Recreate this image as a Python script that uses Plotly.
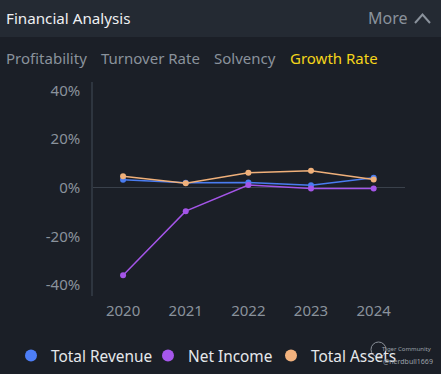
import plotly.graph_objects as go

years = [2020, 2021, 2022, 2023, 2024]
total_revenue = [3.3, 2.1, 2.2, 1.0, 4.1]
net_income = [-36.0, -9.6, 1.1, -0.3, -0.3]
total_assets = [4.7, 1.9, 6.2, 7.0, 3.4]
series_names = ["Total Revenue", "Net Income", "Total Assets"]
series_colors = ["#4a7cf0", "#a455e8", "#f0b07a"]
y_ticks = [-40, -20, 0, 20, 40]
y_tick_labels = ["-40%", "-20%", "0%", "20%", "40%"]
tabs = ["Profitability", "Turnover Rate", "Solvency", "Growth Rate"]

FONT = "Noto Sans"
BG = "#1b1f27"
HEADER = "#242a33"
GRAY = "#8a929c"

H = 374 - 82 - 78
W = 441 - 93 - 36
def px(x):
    return (x - 93) / W
def py(y):
    return (374 - 78 - y) / H

fig = go.Figure()
for name, vals, col in zip(series_names, [total_revenue, net_income, total_assets], series_colors):
    fig.add_trace(go.Scatter(
        x=years, y=vals, mode="lines+markers", name=name,
        line=dict(color=col, width=1.5), marker=dict(color=col, size=6),
        showlegend=False, hoverinfo="skip"))

legend_ids = ["legend", "legend2", "legend3"]
legend_x = [11, 148, 271]
legend_colors = ["#4d7ef7", "#a657ec", "#f2b27e"]
for name, col, lid in zip(series_names, legend_colors, legend_ids):
    fig.add_trace(go.Scatter(
        x=[None], y=[None], mode="markers", name=name, legend=lid,
        marker=dict(color=col, size=12, symbol="circle"), showlegend=True))

leg_common = dict(orientation="h", yanchor="middle", y=1 - 356 / 374, xanchor="left",
                  xref="container", yref="container",
                  font=dict(size=15.4, color="#e6e8eb", family=FONT),
                  itemwidth=30, bgcolor="rgba(0,0,0,0)")
fig.update_layout(
    width=441, height=374,
    paper_bgcolor=BG, plot_bgcolor=BG,
    margin=dict(l=93, r=36, t=82, b=78, autoexpand=False),
    font=dict(family=FONT, color=GRAY, size=15),
    xaxis=dict(range=[2019.52, 2024.5], tickvals=years, ticktext=[str(y) for y in years],
               showgrid=False, zeroline=False, showline=False, ticks="",
               ticklabelstandoff=4,
               tickfont=dict(size=15, color=GRAY), fixedrange=True),
    yaxis=dict(range=[-44.5, 43.5], tickvals=y_ticks, ticktext=y_tick_labels,
               showgrid=False, zeroline=True, zerolinecolor="#3a414b", zerolinewidth=1,
               showline=True, linecolor="#2e353f", linewidth=1.5, ticks="",
               ticklabelstandoff=8,
               tickfont=dict(size=15, color=GRAY), fixedrange=True),
    legend=dict(x=legend_x[0] / 441, **leg_common),
    legend2=dict(x=legend_x[1] / 441, **leg_common),
    legend3=dict(x=legend_x[2] / 441, **leg_common),
    showlegend=True,
)

fig.add_shape(type="rect", xref="paper", yref="paper", x0=px(0), x1=px(441), y0=py(0), y1=py(37),
              fillcolor=HEADER, line=dict(width=0), layer="below")
fig.add_shape(type="path", xref="paper", yref="paper",
              path=f"M {px(415)} {py(23)} L {px(422.5)} {py(14.5)} L {px(430)} {py(23)}",
              line=dict(color=GRAY, width=2))

fig.add_annotation(text="Financial Analysis", x=px(4), y=py(18), xref="paper", yref="paper",
                   xanchor="left", yanchor="middle", showarrow=False,
                   font=dict(size=15.2, color="#eef0f2", family=FONT))
fig.add_annotation(text="More", x=px(410), y=py(18), xref="paper", yref="paper",
                   xanchor="right", yanchor="middle", showarrow=False,
                   font=dict(size=16, color=GRAY, family=FONT))
tab_x = [4, 99, 212, 288]
for t, tx in zip(tabs, tab_x):
    fig.add_annotation(text=t, x=px(tx), y=py(58), xref="paper", yref="paper",
                       xanchor="left", yanchor="middle", showarrow=False,
                       font=dict(size=15, color="#f5d51a" if t == "Growth Rate" else GRAY, family=FONT))
fig.add_annotation(text="Tiger Community", x=px(434), y=py(349), xref="paper", yref="paper",
                   xanchor="right", yanchor="middle", showarrow=False,
                   font=dict(size=6, color="#9aa0a8", family=FONT))
fig.add_annotation(text="@nerdbull1669", x=px(435), y=py(361), xref="paper", yref="paper",
                   xanchor="right", yanchor="middle", showarrow=False,
                   font=dict(size=7, color="#9aa0a8", family=FONT))
fig.add_shape(type="circle", xref="paper", yref="paper", x0=px(371), x1=px(386), y0=py(357), y1=py(342),
              line=dict(color="#8a9098", width=1))

fig.write_html("out.html", config={"displayModeBar": False},
               post_script="document.body.style.margin='0';document.body.style.overflow='hidden';")
